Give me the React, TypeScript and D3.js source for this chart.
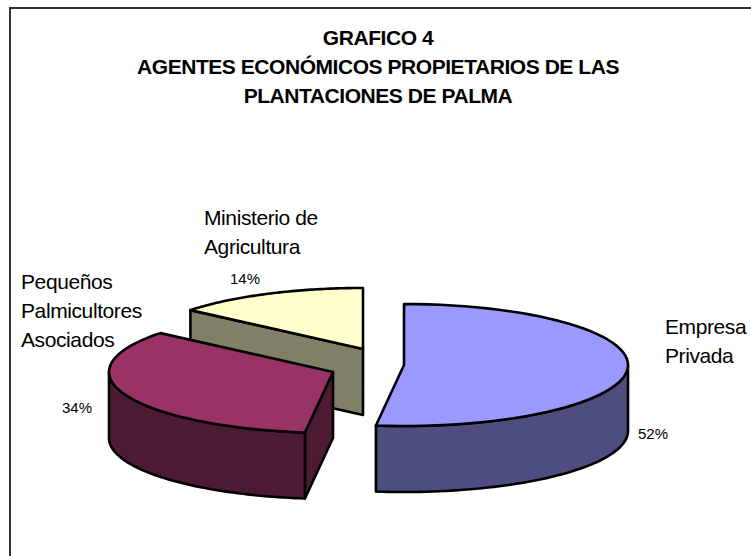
import React from "react";
import * as d3 from "d3";

const categories = ["Empresa Privada", "Pequeños Palmicultores Asociados", "Ministerio de Agricultura"];
const values = [52, 34, 14];
const titleLines = ["GRAFICO 4", "AGENTES ECONÓMICOS PROPIETARIOS DE LAS", "PLANTACIONES DE PALMA"];
const labelLines = [["Empresa", "Privada"], ["Pequeños", "Palmicultores", "Asociados"], ["Ministerio de", "Agricultura"]];
const topColors = ["#9999FF", "#993366", "#FFFFCC"];
const wallColors = ["#4D4D80", "#4D1A33", "#808066"];

const RX = 224;
const RY = 61;
const DEPTH = 66;
const FONT = "'Liberation Sans', Arial, sans-serif";

const centers = [
  { x: 404, y: 365 },
  { x: 333, y: 372 },
  { x: 363, y: 349 },
];
const labelPos = [
  { x: 665, y: 334, px: 638, py: 439 },
  { x: 21, y: 289, px: 62, py: 413 },
  { x: 204, y: 225, px: 230, py: 284 },
];

const arcs = d3.pie<number>().sort(null).startAngle(0).endAngle(2 * Math.PI)(values);
const line = d3.line<[number, number]>();

// point on the tilted ellipse, angle clockwise from 12 o'clock
const pt = (c: { x: number; y: number }, a: number, dy = 0): [number, number] => [
  c.x + RX * Math.sin(a),
  c.y - RY * Math.cos(a) + dy,
];

const rim = (c: { x: number; y: number }, a0: number, a1: number, dy = 0) =>
  d3.range(0, 61).map((i) => pt(c, a0 + ((a1 - a0) * i) / 60, dy));

export default function App() {
  const slices = arcs.map((d, i) => ({ d, i, c: centers[i] }));
  // back slice first, then left, then right
  const order = [2, 1, 0];
  return (
    <svg
      width={751}
      height={556}
      style={{ position: "absolute", left: 0, top: 0, background: "#fff", fontFamily: FONT }}
    >
      {/* the frame only shows on the top and left, it runs off the picture */}
      <path d="M10,556V8H751" fill="none" stroke="#333" strokeWidth={2} />

      {titleLines.map((t, i) => (
        <text key={t} x={378} y={45 + i * 29} textAnchor="middle" fontSize={21} fontWeight="bold" letterSpacing={-0.45}>
          {t}
        </text>
      ))}

      {order.map((i) => {
        const { d, c } = slices[i];
        const a0 = d.startAngle;
        const a1 = d.endAngle;
        const top = [[c.x, c.y] as [number, number], ...rim(c, a0, a1)];
        // outer wall only where the rim faces the viewer (90deg to 270deg)
        const w0 = Math.max(a0, Math.PI / 2);
        const w1 = Math.min(a1, (3 * Math.PI) / 2);
        const hasWall = w1 > w0;
        const outer = hasWall ? [...rim(c, w0, w1), ...rim(c, w1, w0, DEPTH)] : [];
        // cut faces: the start faces of the left and back slices show towards the viewer
        const faces: [number, number][][] = [];
        if (i === 1 || i === 2) {
          const p = pt(c, a0);
          faces.push([[c.x, c.y], p, [p[0], p[1] + DEPTH], [c.x, c.y + DEPTH]]);
        }
        return (
          <g key={categories[i]} stroke="#000" strokeWidth={2.6} strokeLinejoin="round">
            {faces.map((f, k) => (
              <path key={k} d={line(f) + "Z"} fill={wallColors[i]} />
            ))}
            {hasWall && <path d={line(outer) + "Z"} fill={wallColors[i]} />}
            <path d={line(top) + "Z"} fill={topColors[i]} />
          </g>
        );
      })}

      {labelLines.map((lines, i) => (
        <g key={categories[i]}>
          {lines.map((t, k) => (
            <text key={t} x={labelPos[i].x} y={labelPos[i].y + k * 29} fontSize={21} letterSpacing={-0.4}>
              {t}
            </text>
          ))}
          <text x={labelPos[i].px} y={labelPos[i].py} fontSize={15}>
            {values[i]}%
          </text>
        </g>
      ))}
    </svg>
  );
}
